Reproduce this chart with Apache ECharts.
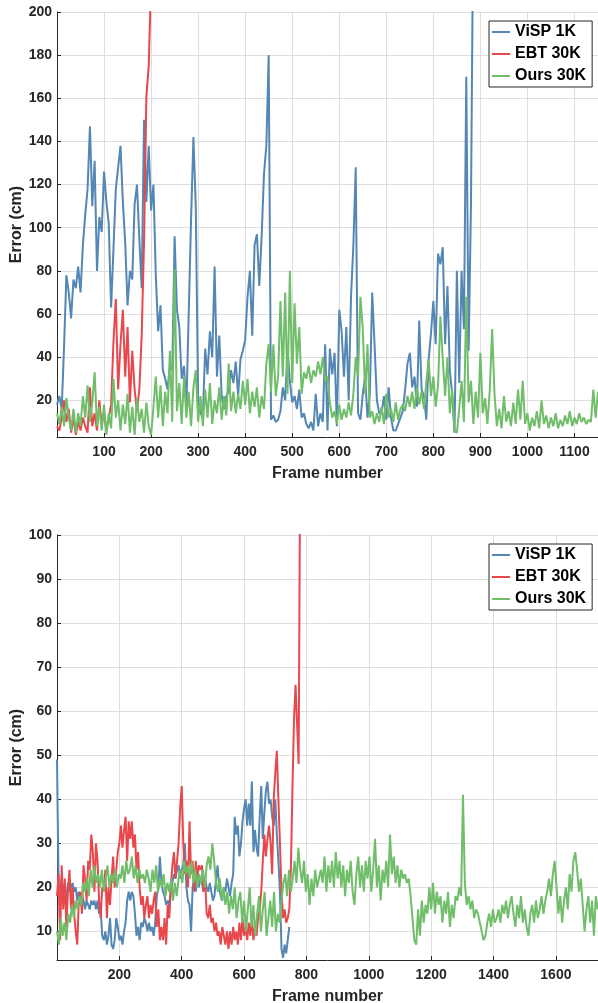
<!DOCTYPE html>
<html><head><meta charset="utf-8">
<script src="https://cdn.jsdelivr.net/npm/echarts@6/dist/echarts.min.js"></script>
<style>html,body{margin:0;padding:0;background:#fff}#c{width:598px;height:1003px}</style>
</head><body><div id="c"></div>
<script>
const seriesNames = ['ViSP 1K', 'EBT 30K', 'Ours 30K'];

// ---- top panel (frame step 5) ----
const topStep = 5;
const topVisp = [
 18,22,16,45,78,70,58,76,72,82,
 70,92,106,118,147,110,131,80,105,98,
 126,112,102,63,90,118,128,138,112,93,
 64,80,76,111,120,95,72,150,112,138,
 108,120,78,52,64,34,30,25,36,34,
 96,62,54,30,36,17,60,104,142,110,
 20,14,12,44,32,52,40,82,31,50,
 22,16,22,24,34,28,38,22,39,43,
 48,68,80,50,92,97,73,96,125,138,
 180,11,13,10,11,15,26,20,44,29,
 19,22,16,25,12,14,9,7,10,6,
 23,8,14,10,46,6,44,32,42,8,
 62,52,31,54,20,68,92,128,14,11,
 23,31,12,23,70,46,20,14,14,22,
 11,26,12,6,6,9,12,15,25,37,
 42,26,31,17,57,25,22,11,39,51,
 66,46,88,83,91,46,73,34,23,5,
 80,28,80,53,170,43,111,250
];
const topEbt = [
 8,6,12,20,10,16,5,12,4,10,
 6,12,8,5,26,8,14,6,20,9,
 14,6,12,18,47,67,25,46,62,31,
 54,19,43,25,15,25,50,93,161,175,
 215
];
const topOurs = [
 14,9,17,8,21,12,6,16,5,14,
 8,22,12,27,10,19,33,8,17,6,
 18,4,14,7,30,12,20,6,18,9,
 23,5,17,4,21,10,16,5,19,8,
 4,17,31,12,27,8,24,14,43,10,
 81,15,28,9,31,12,24,8,26,34,
 10,22,8,25,12,28,9,20,14,26,
 11,22,13,37,15,24,14,23,16,29,
 18,30,14,24,17,26,12,22,16,37,
 46,24,46,22,31,66,31,70,23,80,
 28,65,37,54,23,33,30,36,28,34,
 31,38,32,40,29,31,19,12,15,9,
 18,11,16,12,19,13,23,40,31,68,
 53,23,46,12,15,9,14,10,17,9,
 23,12,16,10,19,11,16,18,15,22,
 17,24,16,26,18,24,16,28,39,22,
 31,17,27,59,39,22,40,14,25,6,
 5,16,29,10,68,19,29,9,24,12,
 42,14,21,9,25,53,23,8,16,7,
 22,10,15,8,19,9,25,11,29,9,
 14,6,12,8,15,7,20,9,13,7,
 12,8,14,7,11,8,13,9,15,8,
 12,9,14,10,12,9,11,10,25,12,
 24
];

// ---- bottom panel ----
const botStepVisp = 5;
const botVisp = [
 49,21,19,22,18,20,17,21,19,20,
 21,19,20,17,19,16,18,17,15,17,
 16,15,17,16,17,15,17,14,15,9,
 8,10,7,9,13,7,6,8,13,11,
 8,9,7,10,12,17,19,17,19,18,
 14,9,11,8,12,11,13,12,10,12,
 10,11,9,12,18,20,27,21,19,18,
 16,17,16,19,21,23,22,24,25,22,
 24,25,30,20,17,16,10,20,22,19,
 23,20,22,21,19,22,20,19,21,19,
 17,18,22,25,20,18,17,20,19,22,
 20,18,21,23,36,32,34,27,30,35,
 38,40,34,39,34,44,28,33,29,27,
 36,43,31,37,42,44,39,40,36,34,
 40,32,26,19,6,4,7,5,8,11
];
const botStepEbt = 5;
const botEbt = [
 18,23,8,25,15,22,11,19,24,15,
 20,14,10,7,17,19,14,25,22,17,
 26,24,32,28,19,30,26,17,13,20,
 19,24,13,20,16,22,27,20,24,28,
 30,34,29,33,36,26,35,31,35,29,
 32,24,28,20,16,18,13,16,18,13,
 16,14,17,19,11,15,8,11,8,13,
 7,16,13,20,25,28,22,26,30,38,
 43,30,23,26,20,35,23,26,19,26,
 22,25,24,25,19,22,14,13,16,12,
 13,10,12,9,10,7,11,9,7,10,
 6,10,7,11,8,10,7,12,8,13,
 9,11,8,12,9,13,8,11,9,13,
 15,19,26,32,27,31,34,30,23,40,
 46,51,40,30,19,13,15,12,13,15,
 24,42,58,66,57,48,120
];
const botStepOurs = 6;
const botOurs = [
 10,7,13,9,12,8,14,12,16,13,
 17,15,18,16,21,19,22,18,24,20,
 25,21,23,20,24,19,22,25,20,23,
 21,24,20,23,22,25,21,26,23,24,
 27,22,25,21,24,22,23,21,24,22,
 19,24,21,25,19,22,20,23,18,21,
 19,22,17,21,18,22,24,21,26,23,
 25,22,26,21,24,20,23,21,24,20,
 25,27,24,30,26,21,19,22,17,20,
 16,19,14,18,15,20,13,17,19,12,
 17,10,15,20,11,16,9,14,18,10,
 15,19,9,13,17,11,19,10,14,12,
 17,21,23,18,24,19,22,26,21,29,
 24,21,26,19,23,16,22,18,24,20,
 22,24,21,27,19,25,21,26,20,28,
 22,26,20,25,18,24,21,26,19,16,
 23,27,20,25,19,26,22,27,19,24,
 31,20,25,17,24,21,26,20,32,23,
 27,21,25,20,24,22,23,21,22,18,
 13,8,7,15,9,17,12,16,14,20,
 15,21,14,19,16,18,12,17,14,19,
 11,16,13,18,17,20,18,41,21,16,
 18,15,17,13,15,14,12,10,8,9,
 12,14,11,15,12,13,15,12,16,14,
 17,13,16,18,14,11,16,13,18,12,
 15,11,9,14,16,12,17,13,15,18,
 14,17,19,22,18,23,26,20,14,18,
 12,17,20,15,23,19,26,28,24,19,
 22,16,10,15,18,12,17,9,18,15
];

const colors = { 'ViSP 1K': '#5487b4', 'EBT 30K': '#e8474c', 'Ours 30K': '#70bd6a' };
const axisColor = '#262626';
const font = '"Liberation Sans", Arial, Helvetica, sans-serif';

function pairs(vals, step) { return vals.map((v, i) => [i * step, v]); }

function makeX(gi, max, interval) {
  return {
    type: 'value', gridIndex: gi, min: 0, max: max, interval: interval,
    name: 'Frame number', nameLocation: 'middle', nameGap: 29, nameMoveOverlap: false,
    nameTextStyle: { fontFamily: font, fontWeight: 'bold', fontSize: 16, color: axisColor },
    axisLine: { show: true, onZero: false, lineStyle: { color: axisColor, width: 1 } },
    axisTick: { show: true, inside: true, length: 4, lineStyle: { color: axisColor } },
    axisLabel: { showMinLabel: false, showMaxLabel: false, margin: 8, fontFamily: font, fontWeight: 'bold', fontSize: 14, color: axisColor,
      formatter: function (v) { return String(v); } },
    splitLine: { show: true, lineStyle: { color: '#dedede', width: 1 } }
  };
}
function makeY(gi, min, max) {
  return {
    type: 'value', gridIndex: gi, min: min, max: max, splitNumber: 10,
    name: 'Error (cm)', nameLocation: 'middle', nameGap: 32, nameMoveOverlap: false,
    nameTextStyle: { fontFamily: font, fontWeight: 'bold', fontSize: 16, color: axisColor },
    axisLine: { show: true, onZero: false, lineStyle: { color: axisColor, width: 1 } },
    axisTick: { show: true, inside: true, length: 4, lineStyle: { color: axisColor } },
    axisLabel: { showMinLabel: false, margin: 5, fontFamily: font, fontWeight: 'bold', fontSize: 14, color: axisColor,
      formatter: function (v) { return String(v); } },
    splitLine: { show: true, lineStyle: { color: '#dedede', width: 1 } }
  };
}
function line(name, gi, data) {
  return {
    type: 'line', name: name, xAxisIndex: gi, yAxisIndex: gi, data: data,
    symbol: 'none', showSymbol: false, animation: false,
    lineStyle: { width: 2, color: colors[name] }, itemStyle: { color: colors[name] }
  };
}
function makeLegend(top) {
  return {
    data: seriesNames, orient: 'vertical', left: 489, top: top,
    icon: 'rect', itemWidth: 18, itemHeight: 2, itemGap: 6, padding: [3, 6, 3, 3],
    borderColor: axisColor, borderWidth: 1, backgroundColor: '#fff',
    selectedMode: false,
    textStyle: { fontFamily: font, fontWeight: 'bold', fontSize: 16, color: '#000', lineHeight: 16 }
  };
}

const chart = echarts.init(document.getElementById('c'), null, { renderer: 'canvas' });
chart.setOption({
  animation: false,
  backgroundColor: '#fff',
  grid: [
    { left: 57, top: 12, width: 541, height: 425, containLabel: false, outerBoundsMode: 'none' },
    { left: 57, top: 535, width: 541, height: 425, containLabel: false, outerBoundsMode: 'none' }
  ],
  xAxis: [makeX(0, 1150, 100), makeX(1, 1735, 200)],
  yAxis: [makeY(0, 3, 200), makeY(1, 3.5, 100)],
  legend: [makeLegend(21), makeLegend(544)],
  series: [
    line('ViSP 1K', 0, pairs(topVisp, topStep)),
    line('EBT 30K', 0, pairs(topEbt, topStep)),
    line('Ours 30K', 0, pairs(topOurs, topStep)),
    line('ViSP 1K', 1, pairs(botVisp, botStepVisp)),
    line('EBT 30K', 1, pairs(botEbt, botStepEbt)),
    line('Ours 30K', 1, pairs(botOurs, botStepOurs))
  ]
});
</script></body></html>
